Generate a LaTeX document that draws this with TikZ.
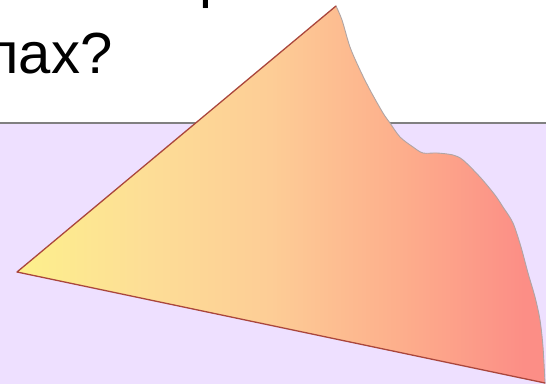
\documentclass[tikz,border=0pt]{standalone}
\usepackage{fontspec}
\setmainfont{Liberation Sans}
\definecolor{lav}{RGB}{238,224,255}
\definecolor{rule}{RGB}{128,128,128}
\definecolor{cy}{RGB}{253,240,140}
\definecolor{ca}{RGB}{253,222,150}
\definecolor{cb}{RGB}{253,205,150}
\definecolor{cc}{RGB}{253,175,140}
\definecolor{cd}{RGB}{252,142,134}
\definecolor{edgered}{RGB}{170,70,60}
\definecolor{edgegray}{RGB}{175,165,165}
\pgfdeclarehorizontalshading{peachgrad}{100bp}{color(0bp)=(cy); color(25bp)=(cy); color(37bp)=(ca); color(49bp)=(cb); color(61bp)=(cc); color(73bp)=(cd); color(100bp)=(cd)}
\tikzset{
  bigtext/.style={inner sep=0pt, outer sep=0pt, font=\fontsize{58}{70}\selectfont, text=black},
  rededge/.style={draw=edgered, line width=1.3pt, line join=round, line cap=round},
  grayedge/.style={draw=edgegray, line width=0.9pt, line join=round}
}
\begin{document}
\begin{tikzpicture}[x=1pt,y=-1pt]
\useasboundingbox (0,0) rectangle (546,387);
\fill[white] (0,0) rectangle (546,387);
\fill[lav] (0,123) rectangle (546,384);
\draw[rule, line width=2pt] (0,123) -- (546,123);
\node[bigtext, anchor=base west] (prev) at (199,-3) {р};
\node[bigtext, anchor=base west] (q) at (-12.5,74) {пах?};
\coordinate (L) at (17,272);
\coordinate (T) at (336,6);
\coordinate (B) at (545,383);
\shade[shading=peachgrad] (L) -- (T) --
  plot[smooth, tension=0.5] coordinates {(336,6) (342,20) (350,47) (360,70) (370,90) (383,113) (390,123) (400,137) (413,147) (423,153) (437,153) (453,155) (463,160) (480,177) (495,195) (503,207) (513,223) (521,247) (528,273) (535,297) (540,320) (543,347) (545,383)}
  -- cycle;
\draw[grayedge] plot[smooth, tension=0.5] coordinates {(336,6) (342,20) (350,47) (360,70) (370,90) (383,113) (390,123) (400,137) (413,147) (423,153) (437,153) (453,155) (463,160) (480,177) (495,195) (503,207) (513,223) (521,247) (528,273) (535,297) (540,320) (543,347) (545,383)};
\draw[rededge] (B) -- (L) -- (T);
\end{tikzpicture}
\end{document}
